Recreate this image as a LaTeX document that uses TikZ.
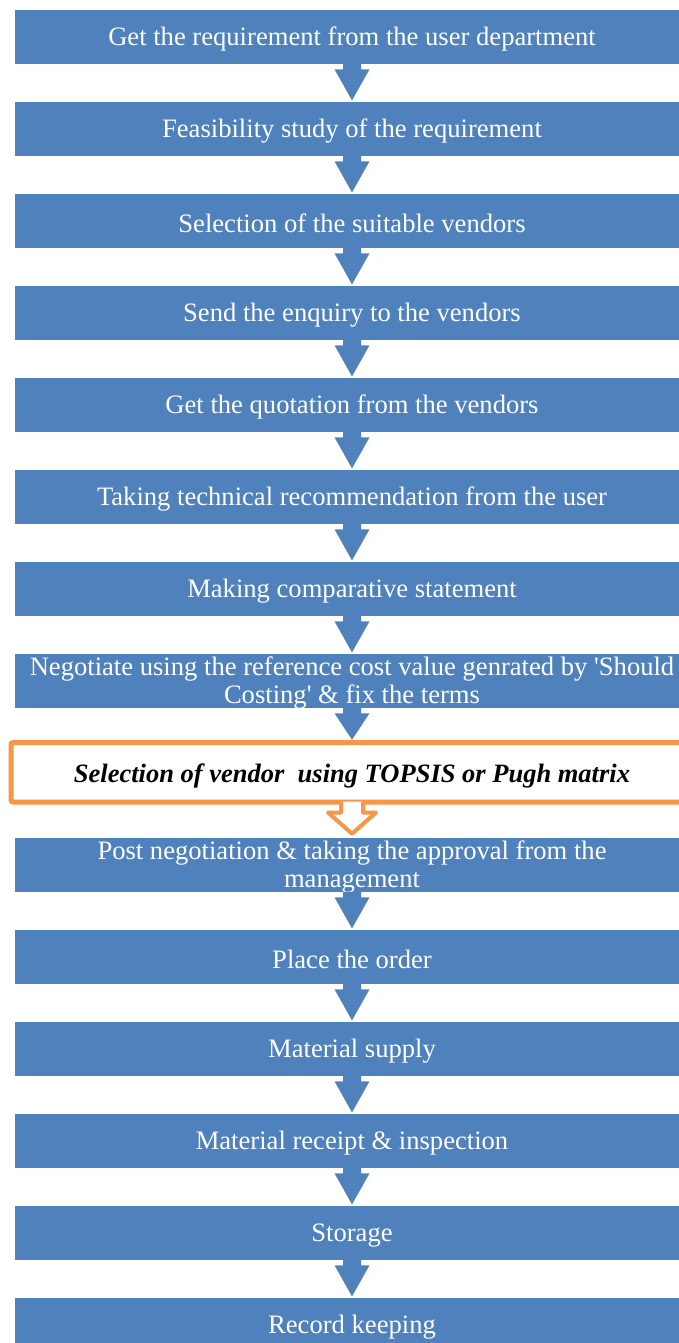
\documentclass[tikz,border=0pt]{standalone}
\usepackage{fontspec}
\setmainfont{Liberation Serif}
\usetikzlibrary{calc}
\definecolor{myblue}{HTML}{4F81BD}
\definecolor{myorange}{HTML}{F79646}
\tikzset{
  bluebox/.style={rectangle, fill=myblue, draw=white, line width=0.6pt,
    minimum width=676pt, minimum height=55pt, inner sep=0pt},
  bluetext/.style={text=white, inner sep=0pt, align=center,
    font=\fontsize{26.6}{28}\selectfont},
  orangebox/.style={rectangle, fill=white, draw=myorange, line width=5pt, rounded corners=2pt,
    minimum width=682pt, minimum height=59.5pt, inner sep=0pt},
  orangetext/.style={text=black, inner sep=0pt, align=center,
    font=\fontsize{26.5}{28}\selectfont\bfseries\itshape},
  downarrow/.style={fill=myblue},
  hollowarrow/.style={fill=white, draw=myorange, line width=4pt, line join=round}
}
\newcommand\stepnode[3]{%
  \node[bluebox] (#1) at (352,#2) {};
  \node[bluetext] (#1t) at (352,#2-2.6) {#3};}
\newcommand\myarrow[2]{%
  \fill[downarrow] let \p1=(#1.south), \p2=(#2.north) in
    (\x1-9pt,\y1+0.5pt) -- (\x1-9pt,\y1-5pt) -- (\x1-17.5pt,\y1-5pt) -- (\x1,\y2+0.3pt)
    -- (\x1+17.5pt,\y1-5pt) -- (\x1+9pt,\y1-5pt) -- (\x1+9pt,\y1+0.5pt) -- cycle;}
\begin{document}
\begin{tikzpicture}[x=1pt,y=1pt]
\useasboundingbox (0,0) rectangle (679,-1343);
\clip (0,0) rectangle (679,-1343);
\fill[white] (0,0) rectangle (679,-1343);
\stepnode{b0}{-36.5}{Get the requirement from the user department}
\stepnode{b1}{-128.5}{Feasibility study of the requirement}
\stepnode{b2}{-220.5}{Selection of the suitable vendors}
\stepnode{b3}{-312.5}{Send the enquiry to the vendors}
\stepnode{b4}{-404.5}{Get the quotation from the vendors}
\stepnode{b5}{-496.5}{Taking technical recommendation from the user}
\stepnode{b6}{-588.5}{Making comparative statement}
\stepnode{b7}{-680.5}{Negotiate using the reference cost value genrated by \textquotesingle Should\\Costing\textquotesingle{} \& fix the terms}
\node[orangebox] (o) at (352,-772.25) {};
\node[orangetext] (ot) at (352,-775.5) {Selection of vendor\ \ using TOPSIS or Pugh matrix};
\stepnode{b9}{-864.5}{Post negotiation \& taking the approval from the\\management}
\stepnode{b10}{-956.5}{Place the order}
\stepnode{b11}{-1048.5}{Material supply}
\stepnode{b12}{-1140.5}{Material receipt \& inspection}
\stepnode{b13}{-1232.5}{Storage}
\stepnode{b14}{-1324.5}{Record keeping}
\myarrow{b0}{b1}
\myarrow{b1}{b2}
\myarrow{b2}{b3}
\myarrow{b3}{b4}
\myarrow{b4}{b5}
\myarrow{b5}{b6}
\myarrow{b6}{b7}
\myarrow{b7}{o}
\path[hollowarrow] let \p1=(o.south), \p2=(b9.north) in
  (\x1-11pt,\y1+3pt) -- (\x1-11pt,\y1-8pt) -- (\x1-24pt,\y1-8pt) -- (\x1,\y2+3pt)
  -- (\x1+24pt,\y1-8pt) -- (\x1+11pt,\y1-8pt) -- (\x1+11pt,\y1+3pt);
\myarrow{b9}{b10}
\myarrow{b10}{b11}
\myarrow{b11}{b12}
\myarrow{b12}{b13}
\myarrow{b13}{b14}
\end{tikzpicture}
\end{document}
